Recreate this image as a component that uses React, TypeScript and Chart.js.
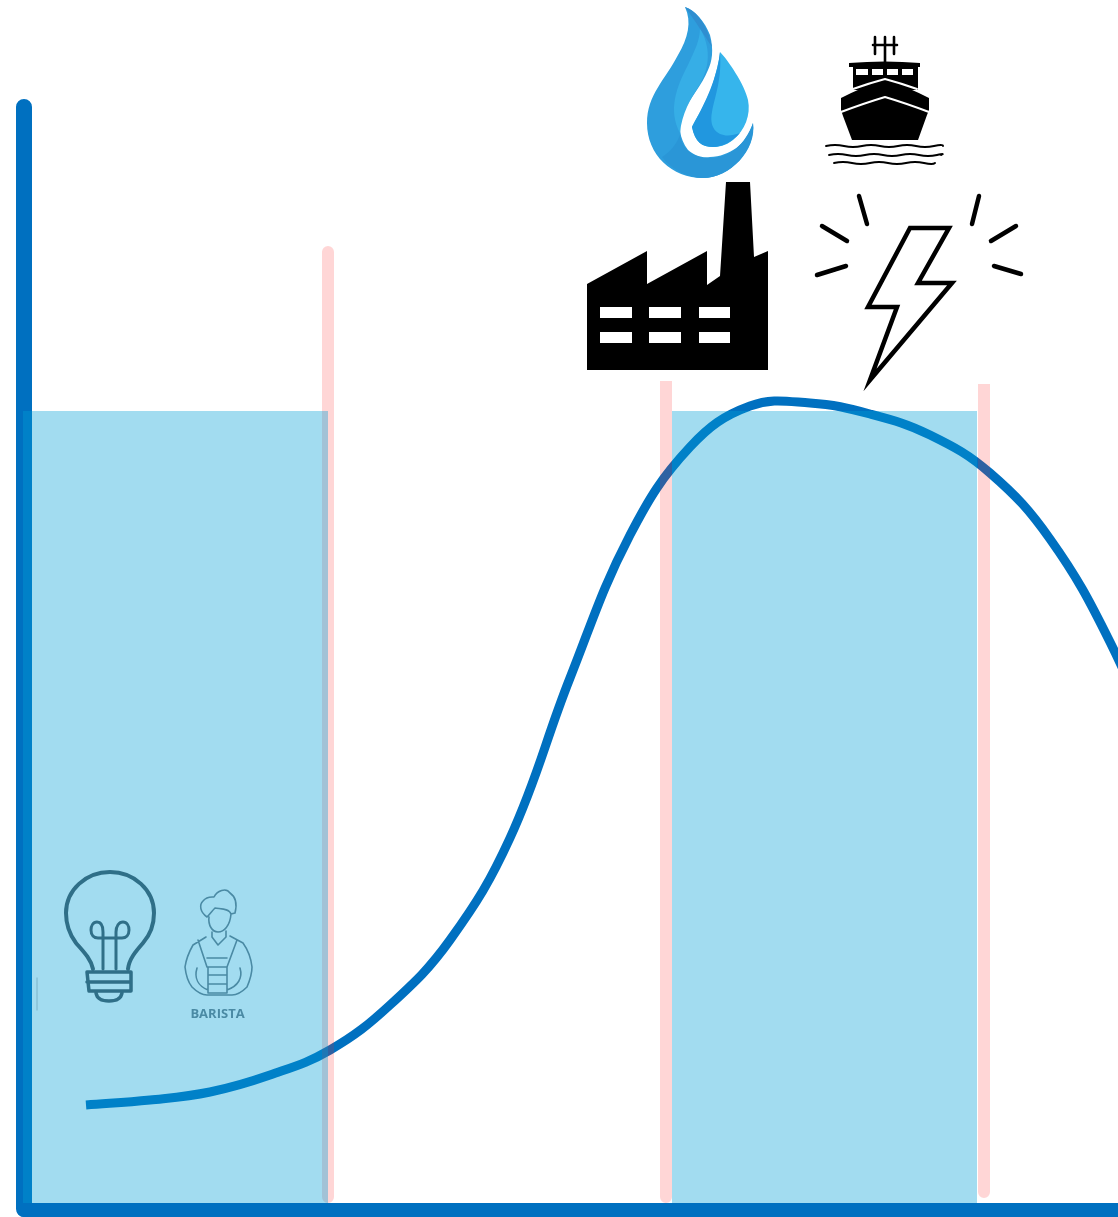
import React, { useEffect, useRef } from "react";
import { Chart, registerables } from "chart.js";

Chart.register(...registerables);

const curveX = [86, 150, 210, 270, 330, 390, 450, 510, 570, 630, 690, 750, 810, 870, 930, 990, 1050, 1110, 1170];
const curveY = [112, 117, 125, 142, 167, 212, 277, 379, 539, 682, 770, 811, 814, 803, 782, 744, 678, 575, 437];
const bandLeftX = [23, 328];
const bandRightX = [672, 977];
const bandTop = [806, 806];
const bandBase = 14;
const dividerFirstX = [328, 328];
const dividerFirstY = [965, 20];
const dividerSecondX = [666, 666];
const dividerSecondY = [842, 20];
const dividerThirdX = [984, 984];
const dividerThirdY = [839, 25];
const axisVerticalX = [24, 24];
const axisVerticalY = [1110, 8];
const axisHorizontalX = [24, 1130];
const axisHorizontalY = [7, 7];
const badgeLabel = "BARISTA";

const zip = (xs: number[], ys: number[]) => xs.map((x, i) => ({ x, y: ys[i] }));

const iconPlugin = {
  id: "icons",
  afterDatasetsDraw(chart: any) {
    const c = chart.ctx as CanvasRenderingContext2D;
    c.save();
    c.lineCap = "round";
    c.lineJoin = "round";

    // factory
    c.fillStyle = "#000";
    c.fill(
      new Path2D(
        "M587 284L647 251V284L707 251V285L720 276L726 182H750L754 257L768 251V370H587Z" +
          "M600 307V318H632V307ZM649 307V318H681V307ZM699 307V318H730V307Z" +
          "M600 332V343H632V332ZM649 332V343H681V332ZM699 332V343H730V332Z"
      ),
      "evenodd"
    );

    // ship
    c.fill(
      new Path2D(
        "M849 63Q885 60 920 63V67H918V90H853V67H849Z" +
          "M856 69V75H868V69ZM872 69V75H883V69ZM887 69V75H898V69ZM902 69V75H913V69Z"
      ),
      "evenodd"
    );
    c.fill(new Path2D("M841 98Q860 88 885 80Q910 88 929 98V110L927 115L918 140H852L843 116L841 110Z"));
    c.strokeStyle = "#fff";
    c.lineWidth = 2;
    c.stroke(new Path2D("M853 89Q870 83 885 79Q900 83 917 89M841 112Q865 103 885 97Q905 103 929 112"));
    c.strokeStyle = "#000";
    c.lineWidth = 2.6;
    c.stroke(new Path2D("M885 37V62M873 45H897M875 37V54M894 37V54"));
    c.lineWidth = 1.9;
    c.stroke(
      new Path2D(
        "M826 146Q835 144 844 146T862 146T880 146T898 146T916 146T934 146T943 146" +
          "M829 155Q838 153 847 155T865 155T883 155T901 155T919 155T937 155T941 155" +
          "M834 163Q843 161 852 163T870 163T888 163T906 163T924 163T935 163"
      )
    );

    // lightning
    c.lineWidth = 4.5;
    c.lineJoin = "miter";
    c.stroke(new Path2D("M910 228H949L918 283H952L870 380L897 307H868Z"));
    c.lineJoin = "round";
    c.stroke(
      new Path2D(
        "M859 196L867 224M822 226L847 241M817 275L846 266M979 196L972 224M1016 226L991 241M994 266L1021 274"
      )
    );

    // drop
    c.fillStyle = "#2e9edd";
    c.fill(
      new Path2D(
        "M685 7C695 10 705 22 710 35C714 50 712 62 708 70C702 85 690 98 683 113C678 125 679 138 688 150C695 156 702 158 710 157C730 156 746 145 753 123C757 150 730 178 703 178C672 178 647 155 647 123C647 95 665 80 678 55C688 38 692 22 685 7Z"
      )
    );
    c.fillStyle = "#36aee6";
    c.fill(new Path2D("M700 28C711 48 710 66 700 84C690 100 682 113 680 133C668 110 676 88 688 65C695 50 700 40 700 28Z"));
    c.fillStyle = "#2f8ed0";
    c.fill(new Path2D("M685 7C697 11 708 26 712 47C704 35 696 22 685 7Z"));
    c.fillStyle = "#2a96d7";
    c.fill(new Path2D("M680 135C682 150 695 159 712 158C730 157 745 145 753 123C756 150 730 178 703 178C688 178 672 170 662 157C670 152 676 145 680 135Z"));
    c.fillStyle = "#36b5ec";
    c.fill(
      new Path2D(
        "M720 52C728 60 745 85 748 100C751 115 745 130 733 140C725 146 719 147 713 147C702 147 695 142 692 127C695 120 708 100 713 83C716 72 719 62 720 52Z"
      )
    );
    c.fillStyle = "#2197df";
    c.fill(new Path2D("M720 52C718 72 710 95 692 127C695 142 702 147 713 147C722 147 732 142 740 133C722 140 708 132 712 112C715 95 722 80 720 52Z"));

    // bulb
    c.strokeStyle = "#2f6f88";
    c.lineWidth = 4;
    c.stroke(
      new Path2D(
        "M93 969C91 959 83 951 76 943C70 935 66 925 66 913C66 890 86 872 110 872C134 872 154 890 154 913C154 925 150 935 143 943C136 951 129 959 128 969"
      )
    );
    c.lineWidth = 3;
    c.stroke(
      new Path2D(
        "M103 969V932C103 926 101 922 97 922C93 922 91 926 91 930C91 935 94 938 98 938H122C126 938 129 935 129 930C129 926 127 922 123 922C119 922 116 926 116 932V969"
      )
    );
    c.lineWidth = 3.5;
    c.stroke(new Path2D("M87 972H131V991H89L87 972ZM87 982H131M96 993C97 999 103 1001 109 1001C115 1001 121 999 122 993"));
    c.lineWidth = 1.4;
    c.strokeStyle = "#85bfd4";
    c.stroke(new Path2D("M37 978V1010"));

    // barista
    c.strokeStyle = "#4a8aa4";
    c.lineWidth = 1.6;
    c.stroke(
      new Path2D(
        "M207 917C200 912 199 905 203 901C207 896 212 897 214 897C217 891 226 887 230 893C236 897 237 905 235 913L231 914C229 908 220 909 215 908C212 911 210 914 207 917" +
          "M209 917C208 925 212 932 218 932C224 932 230 926 231 914" +
          "M212 932V937L218 945L226 937V931" +
          "M206 937L193 945C189 952 186 960 185 967C186 976 188 982 192 987C197 992 202 995 207 995H232C238 995 243 991 247 987C250 980 252 974 252 967C251 958 248 950 243 943L230 936" +
          "M198 940L207 967M237 940L227 967M207 958H227" +
          "M208 967H227V993H208ZM208 975H227M208 984H227" +
          "M197 968C194 978 198 986 208 990M240 968C243 978 238 986 227 990"
      )
    );
    c.fillStyle = "#4a8aa4";
    c.font = "bold 13px 'Open Sans'";
    c.textAlign = "center";
    c.textBaseline = "alphabetic";
    c.fillText(badgeLabel, 217.5, 1018);
    c.restore();
  },
};

export default function App() {
  const ref = useRef<HTMLCanvasElement>(null);
  useEffect(() => {
    const band = "rgba(0,159,214,0.365)";
    const pink = "rgba(255,30,30,0.184)";
    const axisBlue = "#0070c0";
    const line = (data: any[], color: string, width: number, order: number, extra: any = {}) => ({
      data,
      borderColor: color,
      borderWidth: width,
      pointRadius: 0,
      order,
      fill: false,
      borderCapStyle: "round",
      ...extra,
    });
    const chart = new Chart(ref.current!, {
      type: "line",
      data: {
        datasets: [
          { data: zip(bandLeftX, bandTop), borderWidth: 0, pointRadius: 0, backgroundColor: band, fill: { value: bandBase }, order: 1 },
          { data: zip(bandRightX, bandTop), borderWidth: 0, pointRadius: 0, backgroundColor: band, fill: { value: bandBase }, order: 1 },
          line(zip(dividerFirstX, dividerFirstY), pink, 12, 2),
          line(zip(dividerSecondX, dividerSecondY), pink, 12, 2, { clip: { left: 0, right: 0, top: -381, bottom: 0 } }),
          line(zip(dividerThirdX, dividerThirdY), pink, 12, 2, { clip: { left: 0, right: 0, top: -384, bottom: 0 } }),
          line(zip(curveX, curveY), axisBlue, 9, 3, { tension: 0.4, borderCapStyle: "butt" }),
          line(zip(axisVerticalX, axisVerticalY), axisBlue, 16, 4),
          line(zip(axisHorizontalX, axisHorizontalY), axisBlue, 14, 4),
        ] as any,
      },
      options: {
        animation: false,
        responsive: false,
        devicePixelRatio: 1,
        layout: { padding: 0 },
        plugins: { legend: { display: false }, tooltip: { enabled: false } },
        scales: {
          x: { type: "linear", min: 0, max: 1118, display: false },
          y: { type: "linear", min: 0, max: 1217, display: false },
        },
      } as any,
      plugins: [iconPlugin],
    });
    return () => chart.destroy();
  }, []);
  return (
    <div style={{ position: "absolute", left: 0, top: 0, width: 1118, height: 1217, background: "#fff" }}>
      <canvas ref={ref} width={1118} height={1217} style={{ display: "block" }} />
    </div>
  );
}
